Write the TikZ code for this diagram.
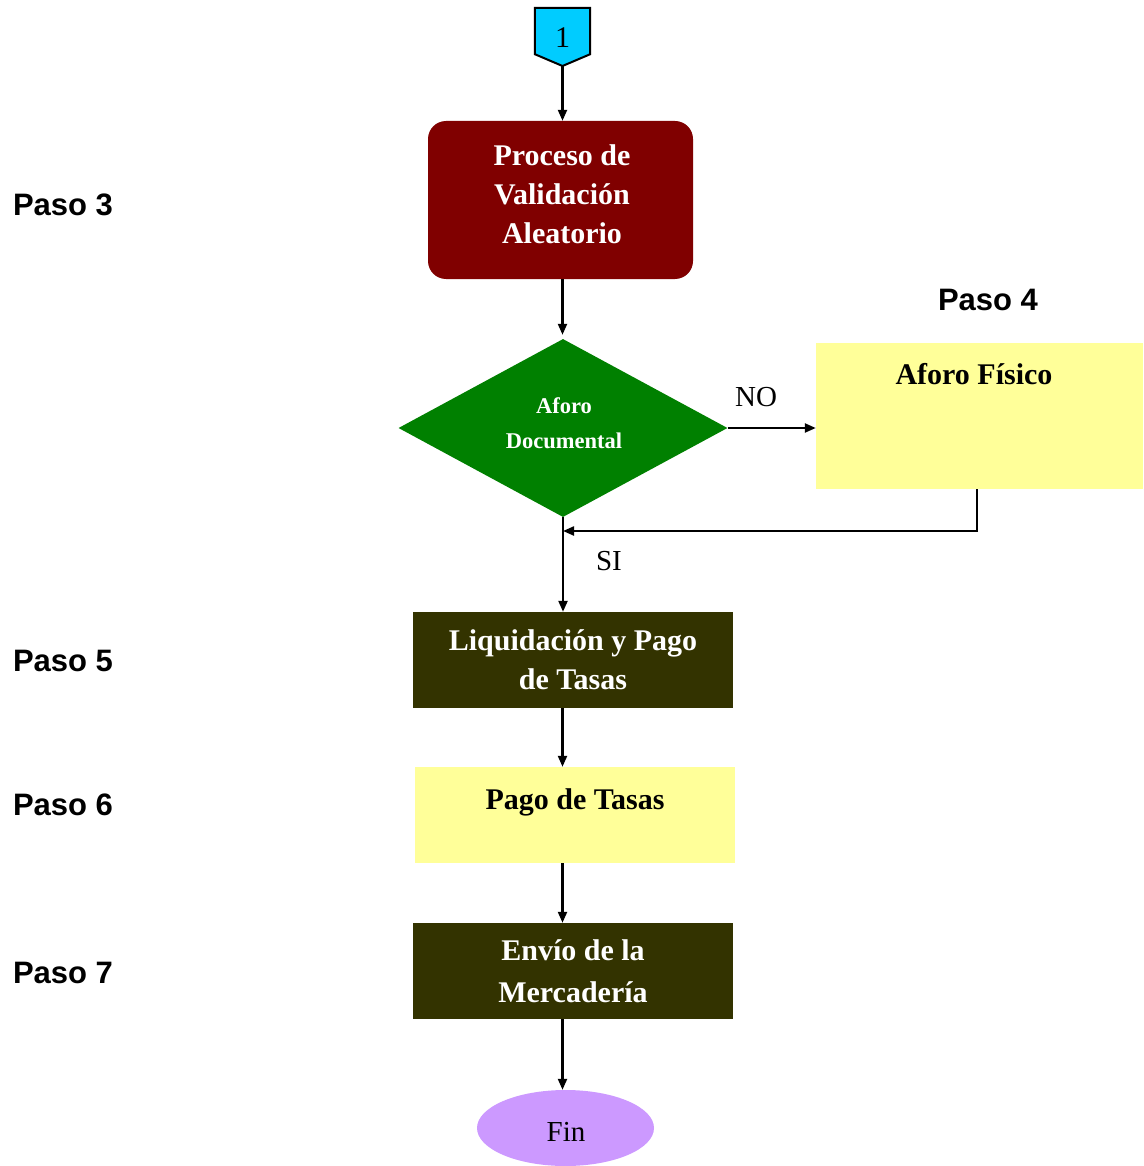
\documentclass[tikz,border=0pt]{standalone}
\usepackage{fontspec}
\newfontfamily\tnr{Liberation Serif}
\newfontfamily\arl{Liberation Sans}
\usetikzlibrary{arrows.meta,shapes.geometric}
\definecolor{dred}{HTML}{800000}
\definecolor{dgreen}{HTML}{008000}
\definecolor{olive}{HTML}{333300}
\definecolor{lyellow}{HTML}{FFFF99}
\definecolor{cyanc}{HTML}{00CCFF}
\definecolor{lav}{HTML}{CC99FF}
\tikzset{
  arr/.style={draw=black, line width=2.2pt, -{Triangle[length=11pt,width=9pt]}},
  plain/.style={draw=black, line width=2.2pt},
  darkbox/.style={rectangle, fill=olive, text=white, minimum width=320pt, minimum height=96pt, inner sep=0pt, align=center, font=\tnr\bfseries\fontsize{30}{39}\selectfont},
  yelbox/.style={rectangle, fill=lyellow, inner sep=0pt},
  boxtext/.style={font=\tnr\bfseries\fontsize{30}{39}\selectfont, text=black},
  paso/.style={font=\arl\bfseries\fontsize{31}{36}\selectfont, text=black},
  lbl/.style={font=\tnr\fontsize{29}{34}\selectfont, text=black}
}
\begin{document}
\begin{tikzpicture}[x=1pt, y=-1pt]
\useasboundingbox (0,0) rectangle (1143,1166);
% off-page connector
\node[rectangle, minimum width=55pt, minimum height=46pt, inner sep=0pt] (con) at (562.5,31) {};
\coordinate (tip) at (562.5,66);
\draw[fill=cyanc, draw=black, line width=2pt] (con.north west) -- (con.north east) -- (con.south east) -- (tip) -- (con.south west) -- cycle;
\node[font=\tnr\fontsize{30}{34}\selectfont, inner sep=0pt] (one) at (562.5,38) {1};
% step 3
\node[rectangle, rounded corners=18pt, fill=dred, minimum width=265pt, minimum height=158pt, inner sep=0pt] (b1) at (560.5,200) {};
\node[text=white, inner sep=0pt, align=center, font=\tnr\bfseries\fontsize{30}{39}\selectfont] (b1t) at (562,194) {Proceso de\\Validación\\Aleatorio};
% decision
\node[diamond, fill=dgreen, minimum width=329pt, minimum height=178pt, inner sep=0pt] (dec) at (563,428) {};
\node[text=white, inner sep=0pt, align=center, font=\tnr\bfseries\fontsize{22.5}{35}\selectfont] (dect) at (564,423) {Aforo\\Documental};
% Aforo fisico
\node[yelbox, minimum width=327pt, minimum height=146pt] (af) at (979.5,416) {};
\node[boxtext, anchor=center] (aft) at (974,374) {Aforo Físico};
% step 5
\node[darkbox] (b5) at (573,660) {Liquidación y Pago\\de Tasas};
% step 6
\node[yelbox, minimum width=320pt, minimum height=96pt] (b6) at (575,815) {};
\node[boxtext] (b6t) at (575,802) {Pago de Tasas};
% step 7
\node[darkbox, font=\tnr\bfseries\fontsize{30}{42}\selectfont] (b7) at (573,971) {Envío de la\\Mercadería};
% end
\node[ellipse, fill=lav, minimum width=177pt, minimum height=76pt, inner sep=0pt] (fin) at (565.5,1128) {};
\node[font=\tnr\fontsize{29}{34}\selectfont, inner sep=0pt] (fint) at (566,1132) {Fin};
% labels
\node[paso] (p3) at (63,205) {Paso 3};
\node[paso] (p4) at (988,300) {Paso 4};
\node[paso] (p5) at (63,661) {Paso 5};
\node[paso] (p6) at (63,805) {Paso 6};
\node[paso] (p7) at (63,973) {Paso 7};
\node[lbl] (no) at (756,397) {NO};
\node[lbl] (si) at (609,561) {SI};
% connectors
\draw[arr] (tip) -- (tip |- b1.north);
\draw[arr] (tip |- b1.south) -- ([yshift=4pt]tip |- dec.north);
\draw[arr] (dec.east) -- (af.west |- dec.east);
\coordinate (ret) at (977,531);
\draw[plain] (ret |- af.south) -- (ret);
\draw[arr] ([xshift=1.1pt]ret) -- (dec.south |- ret);
\draw[arr] (dec.south) -- (dec.south |- b5.north);
\draw[arr] (tip |- b5.south) -- (tip |- b6.north);
\draw[arr] (tip |- b6.south) -- (tip |- b7.north);
\draw[arr] (tip |- b7.south) -- (tip |- fin.north);
\end{tikzpicture}
\end{document}
